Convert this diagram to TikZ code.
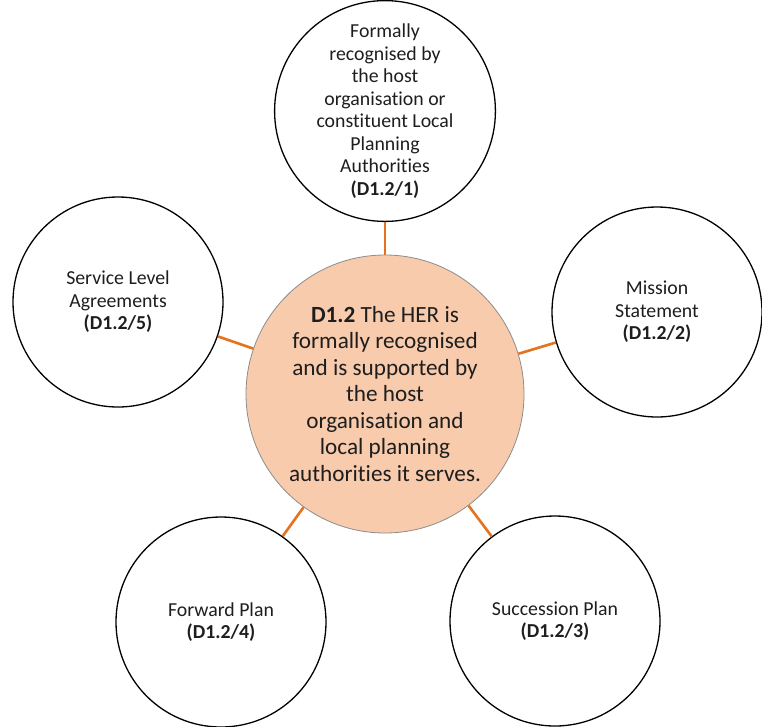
\documentclass[tikz,border=0pt]{standalone}
\usepackage{fontspec}
\setmainfont[Ligatures=NoCommon]{Carlito}
\definecolor{peach}{RGB}{248,203,173}
\definecolor{conn}{RGB}{228,114,30}
\definecolor{txt}{RGB}{30,30,30}
\begin{document}
\begin{tikzpicture}[x=1pt,y=-1pt,
  sub/.style={circle,draw=black,line width=1.3pt,fill=white,minimum size=210pt,inner sep=0pt,align=center,text=txt,font=\fontsize{19.8}{22.5}\selectfont},
  hub/.style={circle,draw=black!45,line width=0.8pt,fill=peach,minimum size=278pt,inner sep=0pt,align=center,text=txt,font=\fontsize{23.2}{26.5}\selectfont},
  link/.style={draw=conn,line width=2.6pt}]
\useasboundingbox (0,0) rectangle (762,726);
\node[hub] (c) at (385,394) {\textbf{D1.2} The HER is\\formally recognised\\and is supported by\\the host\\organisation and\\local planning\\authorities it serves.};
\node[sub] (n1) at (385,111) {Formally\\recognised by\\the host\\organisation or\\constituent Local\\Planning\\Authorities\\\textbf{(D1.2/1)}};
\node[sub] (n2) at (657,312) {Mission\\Statement\\\textbf{(D1.2/2)}};
\node[sub] (n3) at (555,621) {Succession Plan\\\textbf{(D1.2/3)}};
\node[sub] (n4) at (221,622) {Forward Plan\\\textbf{(D1.2/4)}};
\node[sub] (n5) at (118,302) {Service Level\\Agreements\\\textbf{(D1.2/5)}};
\foreach \n in {n1,n2,n3,n4,n5} \draw[link] (c) -- (\n);
\end{tikzpicture}
\end{document}
